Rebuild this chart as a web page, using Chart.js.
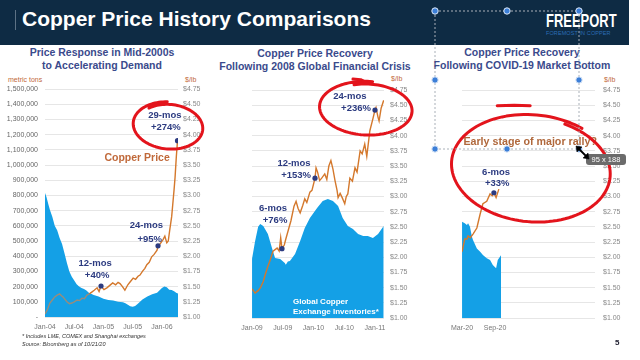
<!DOCTYPE html>
<html><head><meta charset="utf-8">
<script src="https://cdn.jsdelivr.net/npm/chart.js@4.4.1/dist/chart.umd.min.js"></script>
<style>
body{margin:0;width:640px;height:360px;overflow:hidden;background:#fff;font-family:"Liberation Sans",Arial,sans-serif;position:relative}
.a{position:absolute;white-space:nowrap}
#hdr{left:0;top:0;width:629px;height:45px;background:#0e2b44}
#title{left:22px;top:8px;color:#fff;font-weight:bold;font-size:21px;line-height:21px}
#bar{left:15px;top:10px;width:1px;height:20px;background:#5d7285}
#logo{left:546px;top:12px;color:#fff;font-weight:bold;font-size:18px;line-height:18px;transform:scaleX(0.72);transform-origin:0 0}
#logo2{left:546px;top:30px;color:#2c6db5;font-size:5.5px;line-height:6px;letter-spacing:0.1px}
.pt{color:#3a4a8c;font-weight:bold;font-size:10.5px;line-height:12.5px;text-align:center}
.unit{font-size:7px;line-height:8px;color:#c2683a}
.fn{left:22px;font-style:italic;font-size:5.5px;line-height:7px;color:#333}
canvas{position:absolute}
</style></head>
<body>
<div id="hdr" class="a"></div>
<div id="bar" class="a"></div>
<div id="title" class="a">Copper Price History Comparisons</div>
<div id="logo" class="a">FREEPORT</div>
<div id="logo2" class="a">FOREMOST IN COPPER</div>

<div class="a pt" style="left:0;width:204px;top:46px">Price Response in Mid-2000s<br>to Accelerating Demand</div>
<div class="a pt" style="left:215px;width:200px;top:47px">Copper Price Recovery<br>Following 2008 Global Financial Crisis</div>
<div class="a pt" style="left:422px;width:200px;top:46px">Copper Price Recovery<br>Following COVID-19 Market Bottom</div>

<div class="a unit" style="left:8px;top:76px">metric tons</div>
<div class="a unit" style="left:185px;top:76px">$/lb</div>
<div class="a unit" style="left:391px;top:75px">$/lb</div>
<div class="a unit" style="left:604px;top:76px">$/lb</div>

<canvas id="c1" width="215" height="260" style="left:0;top:75px"></canvas>
<canvas id="c2" width="215" height="261" style="left:215px;top:75px"></canvas>
<canvas id="c3" width="210" height="261" style="left:430px;top:75px"></canvas>

<div class="a fn" style="top:333px">* Includes LME, COMEX and Shanghai exchanges</div>
<div class="a fn" style="top:341px">Source: Bloomberg as of 10/21/20</div>
<div class="a" style="left:615px;top:338px;font-weight:bold;font-size:8px;color:#223">5</div>

<svg class="a" style="left:0;top:0" width="640" height="360">
  <g fill="none" stroke="#a9b0b8" stroke-width="1" stroke-dasharray="2 2">
    <line x1="435" y1="11" x2="579" y2="11"/>
    <line x1="435" y1="11" x2="435" y2="149"/>
    <line x1="579" y1="11" x2="579" y2="149"/>
    <line x1="435" y1="149" x2="579" y2="149"/>
  </g>
  <g fill="#3c7fd8" stroke="#dfe9f7" stroke-width="1">
    <circle cx="435" cy="11" r="3.2"/><circle cx="507" cy="11" r="3.2"/><circle cx="579" cy="11" r="3.2"/>
    <circle cx="435" cy="80" r="3.2"/><circle cx="579" cy="80" r="3.2"/>
    <circle cx="435" cy="149" r="3.2"/><circle cx="507" cy="149" r="3.2"/><circle cx="579" cy="149" r="3.2"/>
  </g>
  <rect x="586" y="154" width="40" height="11" rx="3" fill="#6b6b6b"/>
  <g stroke="#000" stroke-width="1.8" fill="#000">
    <line x1="578" y1="148" x2="587" y2="157"/>
    <polygon points="576,146 582,147 577,152" stroke-width="0.5"/>
    <polygon points="589,159 583,158 588,153" stroke-width="0.5"/>
  </g>
</svg>
<div class="a" style="left:586px;top:155px;width:40px;text-align:center;color:#fff;font-size:7.5px;line-height:9px">95 x 188</div>

<script>
// ---------- DATA ----------
// Panel 1: months since Jan-04
const xTicks1 = [0, 6, 12, 18, 24];
const xLabels1 = ["Jan-04", "Jul-04", "Jan-05", "Jul-05", "Jan-06"];
// inventories, thousand metric tons
const inv1 = [[0,815],[0.3,790],[0.7,740],[1,705],[1.5,660],[2,600],[2.5,570],[3,520],[3.5,480],[4,420],[4.5,355],[5,300],[5.5,265],[6,240],[6.5,215],[7,200],[7.5,190],[8,185],[8.5,175],[9,160],[10,145],[11,135],[12,120],[13,112],[14,108],[15,100],[16,97],[16.5,90],[17,80],[17.5,70],[18,68],[18.5,72],[19,85],[20,115],[21,135],[22,150],[23,160],[24,190],[24.5,200],[25,195],[25.5,180],[26,178],[26.5,170],[27,158],[27.3,155]];
// copper price, $/lb
const price1 = [[0,1.05],[0.5,1.12],[1,1.23],[1.5,1.28],[2,1.33],[2.5,1.36],[3,1.38],[3.4,1.35],[3.7,1.33],[4.1,1.29],[4.5,1.25],[5,1.22],[5.5,1.23],[6,1.25],[6.6,1.28],[7.1,1.27],[7.6,1.31],[8.1,1.30],[8.6,1.36],[9.1,1.38],[9.6,1.41],[10.1,1.44],[10.7,1.48],[11.1,1.42],[11.5,1.51],[12.1,1.45],[12.7,1.48],[13.3,1.52],[13.9,1.56],[14.5,1.53],[15.0,1.57],[15.4,1.55],[15.9,1.50],[16.4,1.44],[17.0,1.53],[17.5,1.58],[18.1,1.64],[18.6,1.62],[19.1,1.67],[19.5,1.69],[20.0,1.75],[20.5,1.80],[20.9,1.86],[21.4,1.90],[21.9,1.99],[22.4,2.03],[23.0,2.10],[23.2,2.17],[23.6,2.20],[24.2,2.27],[24.6,2.33],[25.0,2.22],[25.3,2.25],[25.6,2.43],[26.0,2.65],[26.3,2.92],[26.5,3.10],[26.7,3.30],[26.95,3.63],[27.2,3.90]];
const dots1 = [[11.5,1.51],[23.2,2.17],[27.2,3.90]];

// Panel 2: months since Jan-09
const xTicks2 = [0, 6, 12, 18, 24];
const xLabels2 = ["Jan-09", "Jul-09", "Jan-10", "Jul-10", "Jan-11"];
const inv2 = [[0,0],[0.01,390],[0.6,505],[1.2,600],[1.6,618],[2.2,605],[3.1,553],[3.9,461],[4.5,395],[5.5,388],[6.4,362],[6.6,350],[7.0,372],[7.4,375],[8.4,421],[9.4,507],[10.3,592],[11.3,658],[12.7,724],[13.8,770],[14.8,783],[15.8,770],[16.8,737],[17.7,658],[18.7,605],[19.7,585],[20.7,553],[21.7,540],[22.6,540],[23.6,526],[24.6,553],[25.7,605]];
const price2 = [[0,1.48],[0.6,1.41],[1.2,1.45],[1.6,1.49],[2.2,1.60],[2.6,1.72],[3.1,1.85],[3.5,1.94],[4.1,2.10],[4.9,2.15],[5.3,2.10],[5.6,2.32],[5.85,2.14],[6.3,2.20],[6.6,2.30],[7.2,2.48],[7.6,2.60],[8.2,2.84],[8.6,2.92],[9.0,2.80],[9.4,2.73],[9.9,2.85],[10.3,2.96],[10.7,2.90],[11.3,3.07],[11.7,3.10],[12.3,3.30],[12.5,3.47],[12.8,3.40],[13.2,3.26],[13.6,3.30],[14.2,3.37],[14.6,3.28],[15.0,3.50],[15.4,3.59],[15.8,3.45],[16.2,3.26],[16.6,3.10],[16.8,2.98],[17.2,3.05],[17.6,2.98],[18.1,2.88],[18.4,3.00],[18.7,3.04],[19.1,3.30],[19.6,3.25],[20.1,3.47],[20.5,3.40],[21.1,3.75],[21.5,3.70],[22.0,3.86],[22.4,3.66],[23.0,4.08],[23.6,4.28],[24.0,4.42],[24.2,4.46],[24.6,4.30],[24.8,4.24],[25.2,4.45],[25.7,4.58]];
const dots2 = [[5.85,2.14],[12.3,3.30],[24.0,4.42]];

// Panel 3: months since Mar-20
const xTicks3 = [0, 6];
const xLabels3 = ["Mar-20", "Sep-20"];
const inv3 = [[0,0],[0.01,634],[0.5,623],[0.9,612],[1.1,623],[1.45,601],[1.8,535],[2.0,513],[2.7,458],[3.3,436],[3.8,414],[4.5,393],[5.1,382],[5.6,349],[6.2,327],[6.5,382],[7.1,414]];
const price3 = [[0,2.09],[0.5,2.30],[0.9,2.30],[1.1,2.35],[1.5,2.32],[2.0,2.38],[2.7,2.48],[3.3,2.71],[3.8,2.88],[4.5,2.92],[5.1,3.04],[5.5,3.01],[5.8,3.06],[6.2,2.98],[6.7,3.12]];
const dots3 = [[5.8,3.06]];

// Axis tick labels
const invTickLabels = ["-","100,000","200,000","300,000","400,000","500,000","600,000","700,000","800,000","900,000","1,000,000","1,100,000","1,200,000","1,300,000","1,400,000","1,500,000"];
const priceTickLabels = ["$1.00","$1.25","$1.50","$1.75","$2.00","$2.25","$2.50","$2.75","$3.00","$3.25","$3.50","$3.75","$4.00","$4.25","$4.50","$4.75"];

// ---------- RENDERING ----------
Chart.defaults.font.family = '"Liberation Sans", Arial, sans-serif';
const FONT = '"Liberation Sans", Arial, sans-serif';
const BLUE = '#14a0e6', ORANGE = '#d4782c', GREYLINE = '#9a8c7a', NAVY = '#2c3b80', RED = '#e3141c';

const annotPlugin = {
  id: 'annot',
  afterDraw(chart, args, o) {
    const ctx = chart.ctx, xs = chart.scales.x, ys = chart.scales.price;
    const X = m => xs.getPixelForValue(m), Y = p => ys.getPixelForValue(p);
    ctx.save();
    (o.texts || []).forEach(t => {
      ctx.font = 'bold ' + t.size + 'px ' + FONT;
      ctx.fillStyle = t.color; ctx.textAlign = t.align || 'center'; ctx.textBaseline = 'middle';
      ctx.fillText(t.text, X(t.m), Y(t.p));
    });
    ctx.strokeStyle = RED; ctx.lineWidth = 3; ctx.lineCap = 'round'; ctx.lineJoin = 'round';
    (o.loops || []).forEach(l => {
      const cx = X(l.m), cy = Y(l.p), n = 120;
      ctx.beginPath();
      for (let i = 0; i <= n; i++) {
        const f = i / n, t = l.start + l.sweep * f, k = l.k0 + (l.k1 - l.k0) * f;
        const px = l.rx * k * Math.cos(t), py = l.ry * k * Math.sin(t);
        const x = cx + px * Math.cos(l.rot) - py * Math.sin(l.rot);
        const y = cy + px * Math.sin(l.rot) + py * Math.cos(l.rot);
        if (i) ctx.lineTo(x, y); else ctx.moveTo(x, y);
      }
      ctx.stroke();
    });
    (o.strokes || []).forEach(s => {
      ctx.beginPath();
      s.forEach((pt, i) => i ? ctx.lineTo(X(pt[0]), Y(pt[1])) : ctx.moveTo(X(pt[0]), Y(pt[1])));
      ctx.stroke();
    });
    ctx.restore();
  }
};

function pts(a) { return a.map(d => ({x: d[0], y: d[1]})); }

function makeChart(id, c) {
  return new Chart(document.getElementById(id), {
    type: 'line',
    data: {datasets: [
      {data: pts(c.dots), type: 'scatter', yAxisID: 'price', pointRadius: 2.6, pointBackgroundColor: NAVY, pointBorderWidth: 0, order: 0},
      {data: pts(c.price), yAxisID: 'price', borderColor: ORANGE, borderWidth: 1.4, pointRadius: 0, fill: false, tension: 0, order: 1,
       segment: {borderColor: ctx => (c.greyUntil && ctx.p0.parsed.x < c.greyUntil) ? GREYLINE : ORANGE}},
      {data: pts(c.inv), yAxisID: 'inv', borderWidth: 0, borderColor: BLUE, backgroundColor: BLUE, pointRadius: 0, fill: 'origin', tension: 0, order: 2}
    ]},
    options: {
      responsive: false, animation: false, devicePixelRatio: 1,
      layout: {padding: {top: c.padTop, left: c.padLeft, right: 0, bottom: 0}},
      plugins: {legend: {display: false}, tooltip: {enabled: false}, annot: c.annot},
      scales: {
        x: {type: 'linear', min: 0, max: c.xMax, grid: {display: false, drawTicks: false}, border: {display: false},
            afterBuildTicks: s => { s.ticks = c.xTicks.map(v => ({value: v})); },
            afterFit: s => { s.height = 18; },
            ticks: {autoSkip: false, maxRotation: 0, padding: 6, color: '#777', font: {size: 7},
                    callback: (v, i) => c.xLabels[i]}},
        inv: {type: 'linear', position: 'left', min: 0, max: 1500, display: c.showLeft,
              grid: {display: false, drawTicks: false}, border: {display: false},
              afterFit: s => { s.width = c.showLeft ? 45 : 0; },
              ticks: {stepSize: 100, padding: 7, color: '#666', font: {size: 7}, callback: (v, i) => invTickLabels[i]}},
        price: {type: 'linear', position: 'right', min: 1, max: 4.75,
                grid: {color: '#e6e6e6', lineWidth: 1, drawTicks: false}, border: {display: false},
                afterFit: s => { s.width = c.rightW; },
                ticks: {stepSize: 0.25, padding: c.rightPad, color: '#888', font: {size: 7}, callback: (v, i) => priceTickLabels[i]}}
      }
    },
    plugins: [annotPlugin]
  });
}

makeChart('c1', {
  inv: inv1, price: price1, dots: dots1, xTicks: xTicks1, xLabels: xLabels1, xMax: 27.3, greyUntil: 9,
  padTop: 14, padLeft: 0, showLeft: true, rightW: 37, rightPad: 5,
  annot: {
    texts: [
      {text: 'Copper Price', m: 18.9, p: 3.62, size: 10.5, color: '#c0693a'},
      {text: '12-mos', m: 10.3, p: 1.89, size: 9.5, color: NAVY},
      {text: '+40%', m: 10.7, p: 1.69, size: 9.5, color: NAVY},
      {text: '24-mos', m: 20.8, p: 2.50, size: 9.5, color: NAVY},
      {text: '+95%', m: 21.5, p: 2.27, size: 9.5, color: NAVY},
      {text: '29-mos', m: 24.6, p: 4.32, size: 9.5, color: NAVY},
      {text: '+274%', m: 24.8, p: 4.12, size: 9.5, color: NAVY}
    ],
    loops: [{m: 25.44, p: 4.14, rx: 35, ry: 23, rot: 0.1, start: -2.3, sweep: 6.9, k0: 0.93, k1: 1.05}]
  }
});

makeChart('c2', {
  inv: inv2, price: price2, dots: dots2, xTicks: xTicks2, xLabels: xLabels2, xMax: 25.76,
  padTop: 15, padLeft: 37, showLeft: false, rightW: 46, rightPad: 6,
  annot: {
    texts: [
      {text: '6-mos', m: 4.1, p: 2.81, size: 9.5, color: NAVY},
      {text: '+76%', m: 4.5, p: 2.61, size: 9.5, color: NAVY},
      {text: '12-mos', m: 8.2, p: 3.55, size: 9.5, color: NAVY},
      {text: '+153%', m: 8.6, p: 3.35, size: 9.5, color: NAVY},
      {text: '24-mos', m: 19.1, p: 4.65, size: 9.5, color: NAVY},
      {text: '+236%', m: 20.3, p: 4.45, size: 9.5, color: NAVY},
      {text: 'Global Copper', m: 8.0, p: 1.26, size: 8, color: '#ffffff', align: 'left'},
      {text: 'Exchange Inventories*', m: 8.0, p: 1.11, size: 8, color: '#ffffff', align: 'left'}
    ],
    loops: [{m: 22.44, p: 4.44, rx: 46, ry: 26, rot: 0.05, start: -1.9, sweep: 6.7, k0: 0.95, k1: 1.06}],
    strokes: [[[19.7, 4.93], [21.2, 4.92], [22.6, 4.86]]]
  }
});

makeChart('c3', {
  inv: inv3, price: price3, dots: dots3, xTicks: xTicks3, xLabels: xLabels3, xMax: 24.18,
  padTop: 15, padLeft: 32, showLeft: false, rightW: 45, rightPad: 8,
  annot: {
    texts: [
      {text: '6-mos', m: 6.2, p: 3.40, size: 9.5, color: NAVY},
      {text: '+33%', m: 6.4, p: 3.22, size: 9.5, color: NAVY},
      {text: 'Early stage of major rally?', m: 12.4, p: 3.89, size: 10.7, color: '#b0683c'}
    ],
    loops: [{m: 12.73, p: 3.45, rx: 80, ry: 53, rot: 0.1, start: -1.2, sweep: 6.5, k0: 0.97, k1: 1.03}],
    strokes: [[[6.4, 4.49], [9.5, 4.50], [12.4, 4.49]]]
  }
});
</script>
</body></html>
